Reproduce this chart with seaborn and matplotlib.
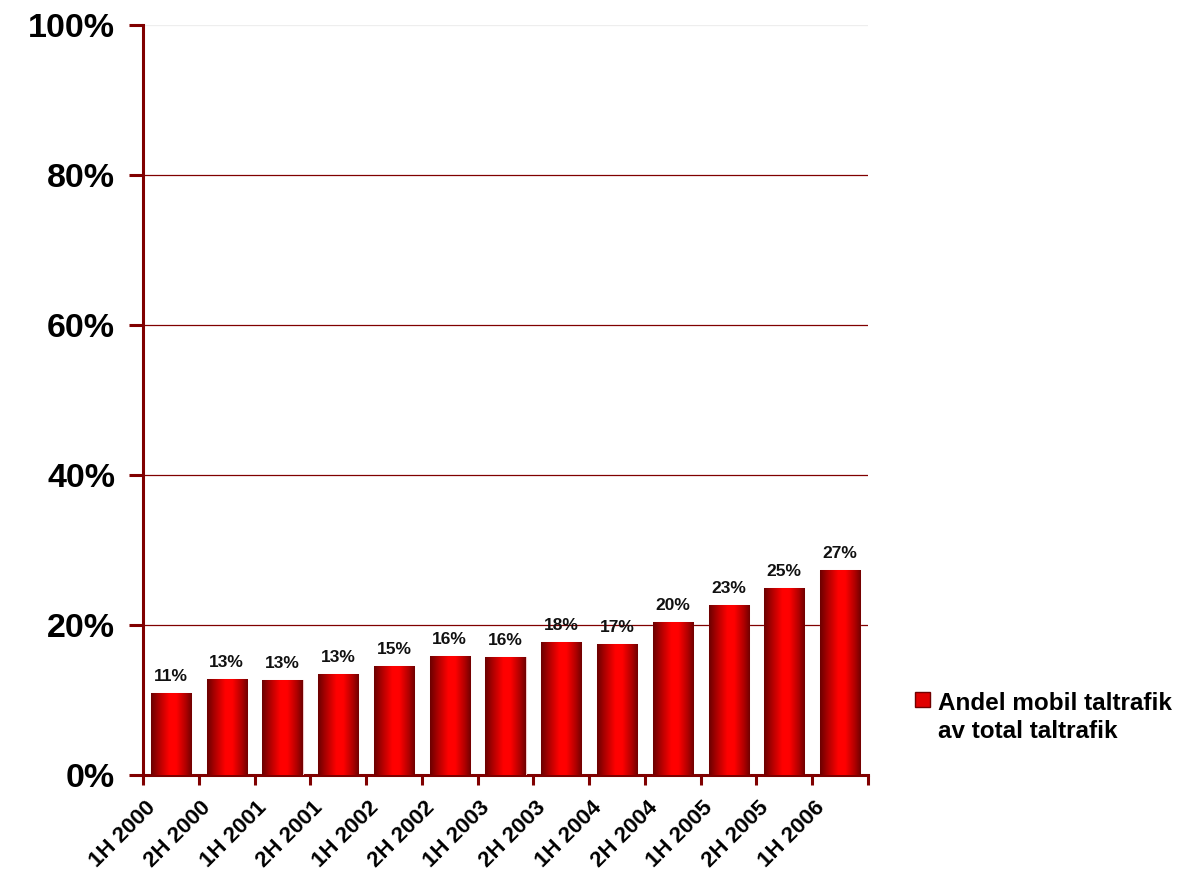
import numpy as np
import pandas as pd
import seaborn as sns
import matplotlib
matplotlib.use("Agg")
import matplotlib.pyplot as plt
from matplotlib.colors import LinearSegmentedColormap
from matplotlib.patches import Patch, Rectangle
from matplotlib.legend_handler import HandlerPatch
from matplotlib.transforms import ScaledTranslation

periods = ["1H 2000", "2H 2000", "1H 2001", "2H 2001", "1H 2002", "2H 2002",
           "1H 2003", "2H 2003", "1H 2004", "2H 2004", "1H 2005", "2H 2005", "1H 2006"]
share = [10.9, 12.8, 12.7, 13.5, 14.5, 15.9, 15.7, 17.7, 17.5, 20.4, 22.7, 24.9, 27.3]
share_labels = ["11%", "13%", "13%", "13%", "15%", "16%", "16%", "18%", "17%",
                "20%", "23%", "25%", "27%"]
series_name = "Andel mobil taltrafik\nav total taltrafik"

df = pd.DataFrame({"period": periods, "share": share})

sns.set_theme(style="white")
plt.rcParams['font.family'] = ['Liberation Sans', 'DejaVu Sans']
plt.rcParams['font.weight'] = 'bold'
plt.rcParams['text.color'] = 'black'

maroon = "#800000"
fig = plt.figure(figsize=(11.89, 8.71), dpi=100)
ax = fig.add_axes([143/1189, 1 - 775/871, (868 - 143)/1189, (775 - 25)/871])

sns.barplot(data=df, x="period", y="share", color="#e00000", width=0.72,
            ax=ax, saturation=1, zorder=3)

# gradient fill on bars
cmap = LinearSegmentedColormap.from_list(
    "cyl", [(0.0, "#6a0000"), (0.2, "#b00000"), (0.45, "#ff0000"),
            (0.62, "#ff0000"), (0.85, "#b00000"), (1.0, "#700000")])
grad = np.linspace(0, 1, 256).reshape(1, -1)
for p in ax.patches:
    x0, y0 = p.get_x(), p.get_y()
    w, h = p.get_width(), p.get_height()
    im = ax.imshow(grad, cmap=cmap, aspect="auto", extent=[x0, x0 + w, y0, y0 + h],
                   zorder=4, interpolation="bicubic")
    im.set_clip_path(p)
    p.set_edgecolor("#f0c8c8")
    p.set_linewidth(0.8)

for i, (v, lab) in enumerate(zip(share, share_labels)):
    ax.text(i, v + 1.2, lab, ha="center", va="bottom", fontsize=12.5,
            fontweight="bold", color="#111111", zorder=5)

ax.set_xlim(-0.5, len(periods) - 0.5)
ax.set_ylim(0, 100)
ax.set_yticks([0, 20, 40, 60, 80, 100])
ax.set_yticklabels(["0%", "20%", "40%", "60%", "80%", "100%"], fontsize=24.5,
                   fontweight="bold", color="black")
for y in [20, 40, 60, 80]:
    ax.axhline(y, color=maroon, lw=0.9, zorder=1)
ax.axhline(100, color="#eeeeee", lw=0.9, zorder=1)

ax.set_xticks(range(len(periods)))
ax.set_xticklabels(periods, rotation=45, ha="right", rotation_mode="anchor",
                   fontsize=16, fontweight="bold", color="black")
ax.set_xticks(np.arange(-0.5, len(periods), 1), minor=True)
ax.tick_params(axis="x", which="major", length=0, pad=16)
ax.tick_params(axis="x", which="minor", length=7, width=2.2, color=maroon, direction="out",
               bottom=True)
ax.tick_params(axis="y", length=10, width=2.2, color=maroon, direction="out", left=True, pad=10)
offset = ScaledTranslation(-26/100, 0, fig.dpi_scale_trans)
for lab in ax.get_xticklabels():
    lab.set_transform(lab.get_transform() + offset)

for s in ["top", "right"]:
    ax.spines[s].set_visible(False)
for s in ["left", "bottom"]:
    ax.spines[s].set_color(maroon)
    ax.spines[s].set_linewidth(2.2)
ax.set_xlabel("")
ax.set_ylabel("")


def top_square(legend, orig_handle, xdescent, ydescent, width, height, fontsize):
    return Rectangle((-xdescent, -ydescent + 0.75 * fontsize), width, height)


handle = Patch(facecolor="#e00000", edgecolor="#700000", linewidth=1)
leg = fig.legend(handles=[handle], labels=[series_name], loc="upper left",
                 bbox_to_anchor=(903/1189, 1 - 680/871), frameon=False,
                 prop={"size": 17.5, "weight": "bold"}, handlelength=0.62, handleheight=0.62,
                 handletextpad=0.3, borderpad=0, labelspacing=0,
                 handler_map={Patch: HandlerPatch(patch_func=top_square)})
for t in leg.get_texts():
    t.set_linespacing(1.25)
    t.set_color("black")

fig.savefig("out.png", dpi=100)
